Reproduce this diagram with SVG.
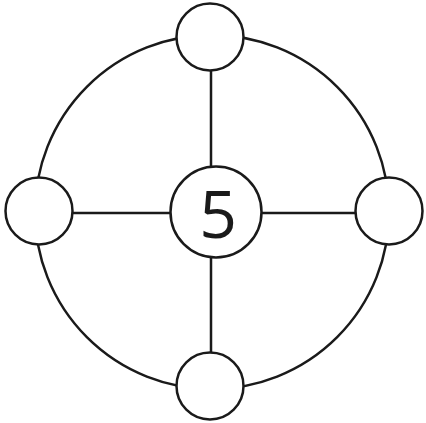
<svg xmlns="http://www.w3.org/2000/svg" width="426" height="423" viewBox="0 0 426 423">
<style>
.ln{stroke:#1a1a1a;stroke-width:2.5;fill:none}
.nd{stroke:#1a1a1a;stroke-width:2.5;fill:#fff}
.t{font-family:"Open Sans","Liberation Sans",sans-serif;font-size:66px;fill:#1a1a1a;text-anchor:middle}
</style>
<rect width="426" height="423" fill="#fff"/>
<g id="connectors">
<circle class="ln" cx="212" cy="212" r="177"/>
<line class="ln" x1="211" y1="37" x2="211" y2="386"/>
<line class="ln" x1="39" y1="213" x2="388" y2="213"/>
</g>
<g id="node-top"><circle class="nd" cx="210" cy="37" r="33.5"/></g>
<g id="node-left"><circle class="nd" cx="39" cy="211" r="33.5"/></g>
<g id="node-right"><circle class="nd" cx="389" cy="211" r="33.5"/></g>
<g id="node-bottom"><circle class="nd" cx="210" cy="386" r="33.5"/></g>
<g id="node-center"><circle class="nd" cx="216" cy="212" r="45.5"/><text class="t" x="218" y="238">5</text></g>
</svg>
